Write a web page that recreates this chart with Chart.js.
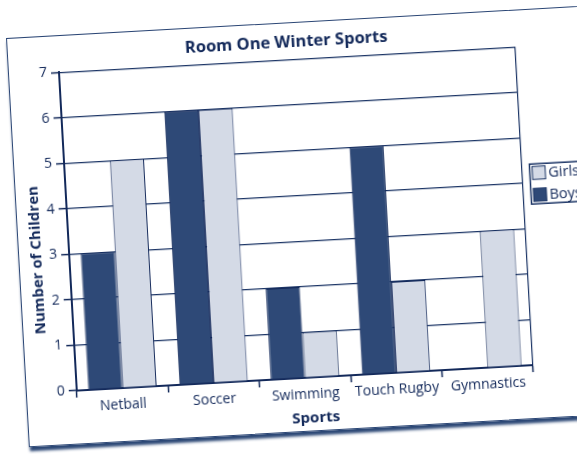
<!DOCTYPE html>
<html>
<head>
<meta charset="utf-8">
<script src="https://cdn.jsdelivr.net/npm/chart.js@4.4.1/dist/chart.umd.min.js"></script>
<style>
  html, body { margin: 0; padding: 0; background: #fff; overflow: hidden; }
  body { width: 577px; height: 454px; position: relative; }
  .page {
    position: absolute;
    left: 5.5px;
    top: 38px;
    width: 640px;
    height: 408px;
    background: #fff;
    border: 1px solid #2b4675;
    box-shadow: 1px 4px 3px #2b4775;
    transform-origin: 0 0;
    transform: rotate(-3.2deg);
  }
  canvas { display: block; }
</style>
</head>
<body>
<div class="page">
  <canvas id="chart" width="640" height="408"></canvas>
</div>
<script>
const sports = ['Netball', 'Soccer', 'Swimming', 'Touch Rugby', 'Gymnastics'];
const boys = [3, 6, 2, 5, 0];
const girls = [5, 6, 1, 2, 3];
const yMax = 7;
const yStep = 1;

const titleText = 'Room One Winter Sports';
const xTitle = 'Sports';
const yTitle = 'Number of Children';

const navy = '#13295a';
const lineNavy = '#1b3465';
const boysColor = '#2e4977';
const girlsColor = '#d4dae6';
const fontFamily = '"Open Sans", "Noto Sans", sans-serif';

// axis titles and boxed legend, drawn relative to the chart area
const decorations = {
  id: 'decorations',
  afterDraw(chart) {
    const { ctx, chartArea: a } = chart;
    ctx.save();
    ctx.fillStyle = navy;
    ctx.textAlign = 'center';
    ctx.textBaseline = 'middle';
    ctx.font = 'bold 15px ' + fontFamily;
    ctx.fillText(xTitle, (a.left + a.right) / 2 + 9, a.bottom + 40.5);

    ctx.save();
    ctx.translate(18, (a.top + a.bottom) / 2 + 27);
    ctx.rotate(-Math.PI / 2);
    ctx.fillText(yTitle, 0, 0);
    ctx.restore();

    // legend box
    const bx = a.right + 7.5;
    const by = a.top + 118;
    ctx.strokeStyle = lineNavy;
    ctx.lineWidth = 1.5;
    ctx.strokeRect(bx, by, 70, 40);

    const items = chart.data.datasets.slice().reverse();
    ctx.font = '14.5px ' + fontFamily;
    ctx.textAlign = 'left';
    items.forEach((ds, i) => {
      const sy = by + 2.5 + i * 22;
      ctx.fillStyle = ds.backgroundColor;
      ctx.fillRect(bx + 2.5, sy, 13, 13);
      ctx.lineWidth = 1;
      ctx.strokeStyle = lineNavy;
      ctx.strokeRect(bx + 2.5, sy, 13, 13);
      ctx.fillStyle = navy;
      ctx.fillText(ds.label, bx + 18.5, sy + 7);
    });
    ctx.restore();
  }
};

new Chart(document.getElementById('chart'), {
  type: 'bar',
  data: {
    labels: sports,
    datasets: [
      {
        label: 'Boys',
        data: boys,
        backgroundColor: boysColor,
        borderColor: navy,
        borderWidth: 1,
        categoryPercentage: 0.75,
        barPercentage: 1.0
      },
      {
        label: 'Girls',
        data: girls,
        backgroundColor: girlsColor,
        borderColor: navy,
        borderWidth: 1,
        categoryPercentage: 0.75,
        barPercentage: 1.0
      }
    ]
  },
  options: {
    responsive: false,
    animation: false,
    devicePixelRatio: 1,
    layout: {
      padding: { left: 0, right: 133, top: 0, bottom: 0 }
    },
    plugins: {
      legend: { display: false },
      tooltip: { enabled: false },
      title: {
        display: true,
        text: titleText,
        fullSize: false,
        color: navy,
        font: { family: fontFamily, size: 16.5, weight: 'bold' },
        padding: { top: 9, bottom: 7.4 }
      }
    },
    scales: {
      x: {
        afterFit(scale) { scale.height = 53; },
        border: { display: true, color: navy, width: 2 },
        grid: {
          offset: true,
          // only the closing line at the right edge of the plot
          color: (ctx) => (ctx.type === 'scale' || ctx.index === sports.length) ? lineNavy : 'rgba(0,0,0,0)',
          tickColor: navy,
          tickLength: 7,
          lineWidth: 1.2,
          tickWidth: 1.5
        },
        ticks: {
          color: navy,
          padding: 2,
          font: { family: fontFamily, size: 14 }
        }
      },
      y: {
        min: 0,
        max: yMax,
        afterFit(scale) { scale.width = 50; },
        border: { display: true, color: navy, width: 2 },
        grid: {
          color: lineNavy,
          lineWidth: 1.2,
          tickColor: navy,
          tickLength: 8,
          tickWidth: 1.5
        },
        ticks: {
          stepSize: yStep,
          color: navy,
          padding: 4,
          font: { family: fontFamily, size: 14 }
        }
      }
    }
  },
  plugins: [decorations]
});
</script>
</body>
</html>
